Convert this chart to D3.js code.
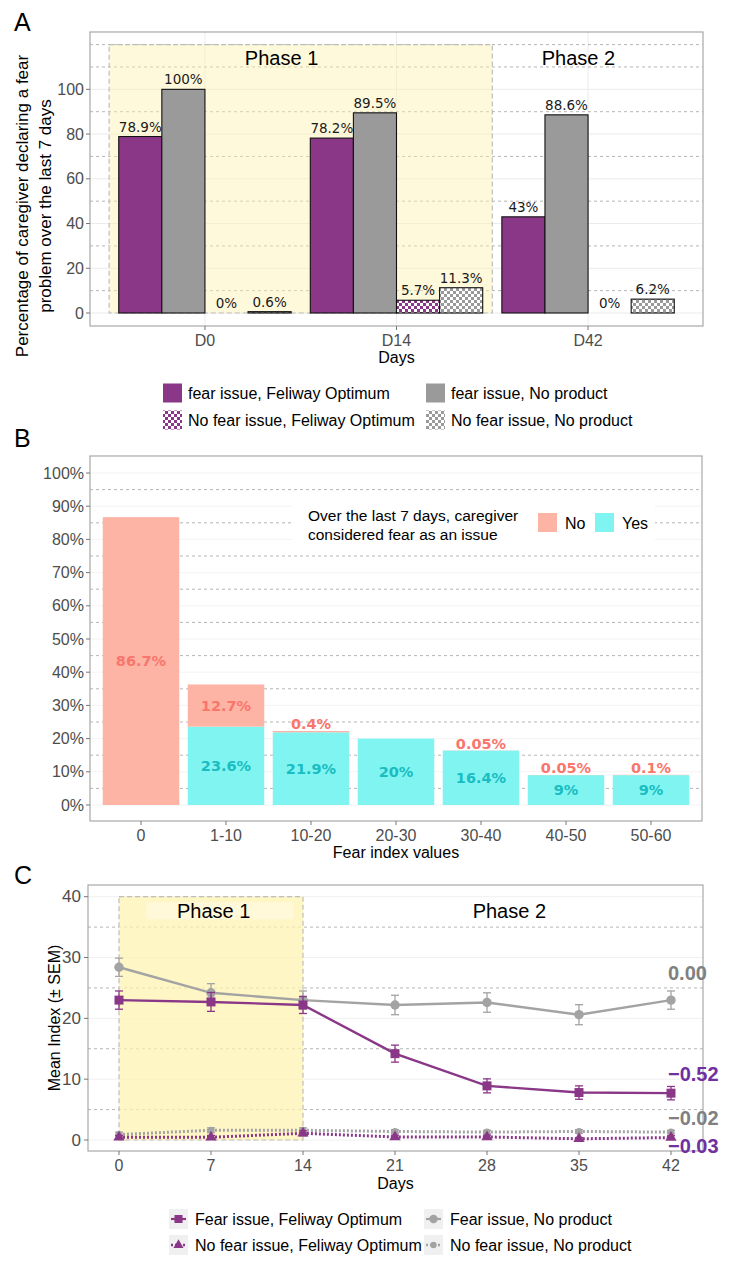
<!DOCTYPE html>
<html><head><meta charset="utf-8">
<script src="https://cdn.jsdelivr.net/npm/d3@7"></script>
<style>body{margin:0;background:#fff;} svg{display:block;font-family:"Liberation Sans",Arial,sans-serif;}</style>
</head><body><svg id="c" width="730" height="1262"></svg>
<script>
// ---------- Panel A data ----------
const daysA = ["D0", "D14", "D42"];
const seriesA = ["fear issue, Feliway Optimum", "fear issue, No product", "No fear issue, Feliway Optimum", "No fear issue, No product"];
const fearFeliwayA = [78.9, 78.2, 43];
const fearNoProductA = [100, 89.5, 88.6];
const noFearFeliwayA = [0, 5.7, 0];
const noFearNoProductA = [0.6, 11.3, 6.2];
const ticksA = [0, 20, 40, 60, 80, 100];
const dashedA = [10, 30, 50, 70, 90, 110, 120];
const phaseLabelsA = ["Phase 1", "Phase 2"];

// ---------- Panel B data ----------
const catsB = ["0", "1-10", "10-20", "20-30", "30-40", "40-50", "50-60"];
const yesB = [0, 23.6, 21.9, 20, 16.4, 9, 9];
const noB = [86.7, 12.7, 0.4, 0, 0.05, 0.05, 0.1];
const ticksB = [0, 10, 20, 30, 40, 50, 60, 70, 80, 90, 100];
const dashedB = [5, 15, 25, 35, 45, 55, 65, 75, 85, 95];

// ---------- Panel C data ----------
const daysC = [0, 7, 14, 21, 28, 35, 42];
const fearFeliwayC = [23.0, 22.7, 22.2, 14.2, 8.9, 7.8, 7.7];
const fearFeliwayErr = [1.5, 1.55, 1.4, 1.4, 1.15, 1.1, 1.1];
const fearNoProductC = [28.4, 24.2, 23.0, 22.2, 22.6, 20.6, 23.0];
const fearNoProductErr = [1.5, 1.5, 1.5, 1.6, 1.6, 1.65, 1.5];
const noFearFeliwayC = [0.45, 0.45, 1.1, 0.5, 0.5, 0.2, 0.4];
const noFearFeliwayErr = [0.3, 0.3, 0.4, 0.3, 0.3, 0.2, 0.3];
const noFearNoProductC = [0.9, 1.6, 1.6, 1.4, 1.3, 1.4, 1.3];
const noFearNoProductErr = [0.4, 0.4, 0.4, 0.3, 0.3, 0.3, 0.3];
const ticksCy = [0, 10, 20, 30, 40];
const dashedC = [5, 15, 25, 35];
const endLabels = ["0.00", "\u22120.52", "\u22120.02", "\u22120.03"];
const endLabelY = [27.5, 10.9, 3.6, -1.0];
const seriesC = ["Fear issue, Feliway Optimum", "Fear issue, No product", "No fear issue, Feliway Optimum", "No fear issue, No product"];

// ---------- styles ----------
const PURPLE = "#8A3788", GREY = "#9A9A9A", LGREY = "#A3A3A3";
const TICK = "#4D4D4D", DASH = "#B5B5B5", BORDER = "#A8A8A8";

const svg = d3.select("#c");
const defs = svg.append("defs");
function checker(id, col) {
  const p = defs.append("pattern").attr("id", id).attr("patternUnits", "userSpaceOnUse")
    .attr("width", 6).attr("height", 6);
  p.append("rect").attr("width", 6).attr("height", 6).attr("fill", "#fff");
  p.append("rect").attr("width", 3).attr("height", 3).attr("fill", col);
  p.append("rect").attr("x", 3).attr("y", 3).attr("width", 3).attr("height", 3).attr("fill", col);
}
checker("chkP", PURPLE);
checker("chkG", GREY);
const fillsA = [PURPLE, GREY, "url(#chkP)", "url(#chkG)"];

function txt(g, x, y, s, o = {}) {
  const t = g.append("text").attr("x", x).attr("y", y).text(s)
    .attr("font-size", o.size || 16).attr("fill", o.fill || "#000")
    .attr("text-anchor", o.anchor || "start").attr("dominant-baseline", o.base || "central");
  if (o.weight) t.attr("font-weight", o.weight);
  if (o.family) t.attr("font-family", o.family);
  if (o.rotate) t.attr("transform", `rotate(-90,${x},${y})`);
  return t;
}
function hline(g, x1, x2, y, col, dash, w = 1) {
  const l = g.append("line").attr("x1", x1).attr("x2", x2).attr("y1", y).attr("y2", y)
    .attr("stroke", col).attr("stroke-width", w);
  if (dash) l.attr("stroke-dasharray", dash);
}

// =================== PANEL A ===================
const A = {l: 90, r: 703, t: 32, b: 326};
const gA = svg.append("g");
const xA = d3.scaleBand().domain(daysA).range([A.l, A.r]).paddingInner(0.1).paddingOuter(0.15);
const xSubA = d3.scaleBand().domain(seriesA).range([0, xA.bandwidth()]);
const yA = d3.scaleLinear().domain([0, 120]).range([313, 44.6]);
const valsA = [fearFeliwayA, fearNoProductA, noFearFeliwayA, noFearNoProductA];
const ctrA = i => xA(daysA[0]) + xA.bandwidth() / 2 + i * xA.step();

txt(gA, 14, 22, "A", {size: 25});
ticksA.forEach(v => hline(gA, A.l, A.r, yA(v), "#EBEBEB"));
daysA.forEach(d => gA.append("line").attr("x1", xA(d) + xA.bandwidth() / 2).attr("x2", xA(d) + xA.bandwidth() / 2)
  .attr("y1", A.t).attr("y2", A.b).attr("stroke", "#EBEBEB"));
dashedA.forEach(v => hline(gA, A.l, A.r, yA(v), DASH, "3,3"));
const rL = xA(daysA[0]) - xA.step() * xA.paddingInner() / 2;
const rR = xA(daysA[1]) + xA.bandwidth() + xA.step() * xA.paddingInner() / 2;
gA.append("rect").attr("x", rL).attr("y", yA(120)).attr("width", rR - rL).attr("height", yA(0) - yA(120))
  .attr("fill", "#FFF2B0").attr("fill-opacity", 0.45)
  .attr("stroke", "#BDBDBD").attr("stroke-width", 1.2).attr("stroke-dasharray", "5,3");
txt(gA, ctrA(0.4), yA(114), phaseLabelsA[0], {size: 20, anchor: "middle"});
txt(gA, ctrA(1.95), yA(114), phaseLabelsA[1], {size: 20, anchor: "middle"});

daysA.forEach((d, i) => {
  seriesA.forEach((s, k) => {
    const v = valsA[k][i];
    const x = xA(d) + xSubA(s);
    gA.append("rect").attr("x", x).attr("y", yA(v)).attr("width", xSubA.bandwidth())
      .attr("height", yA(0) - yA(v)).attr("fill", fillsA[k]).attr("stroke", "#111").attr("stroke-width", 1.1);
    txt(gA, x + xSubA.bandwidth() / 2, yA(v) - 5, v + "%", {size: 13.5, anchor: "middle", base: "alphabetic",
      family: "DejaVu Sans", fill: "#1a1a1a"});
  });
});
gA.append("rect").attr("x", A.l).attr("y", A.t).attr("width", A.r - A.l).attr("height", A.b - A.t)
  .attr("fill", "none").attr("stroke", BORDER).attr("stroke-width", 1.2);
ticksA.forEach(v => {
  hline(gA, A.l - 4, A.l, yA(v), "#777");
  txt(gA, A.l - 6, yA(v), String(v), {anchor: "end", fill: TICK});
});
daysA.forEach(d => {
  const cx = xA(d) + xA.bandwidth() / 2;
  gA.append("line").attr("x1", cx).attr("x2", cx).attr("y1", A.b).attr("y2", A.b + 4).attr("stroke", "#777");
  txt(gA, cx, 340, d, {anchor: "middle", fill: TICK});
});
txt(gA, (A.l + A.r) / 2, 357, "Days", {anchor: "middle"});
txt(gA, 22, 206, "Percentage of caregiver declaring a fear", {anchor: "middle", rotate: true, size: 17});
txt(gA, 45, 206, "problem over the last 7 days", {anchor: "middle", rotate: true, size: 17});

// legend A
const legA = [[163, 393], [426, 393], [163, 420], [426, 420]];
seriesA.forEach((s, k) => {
  const [lx, ly] = legA[k];
  gA.append("rect").attr("x", lx).attr("y", ly - 9.5).attr("width", 19).attr("height", 19).attr("fill", fillsA[k]);
  txt(gA, lx + 25, ly, s, {size: 16});
});

// =================== PANEL B ===================
const B = {l: 90, r: 702, t: 456, b: 821};
const gB = svg.append("g");
const xB = d3.scaleBand().domain(catsB).range([B.l, B.r]).paddingInner(0.1).paddingOuter(0.15);
const yB = d3.scaleLinear().domain([0, 100]).range([805, 473]);
const COL_NO = "#FDB4A4", COL_YES = "#80F4F0", LAB_NO = "#F8766D", LAB_YES = "#19BDC2";

txt(gB, 14, 438, "B", {size: 25});
ticksB.forEach(v => hline(gB, B.l, B.r, yB(v), "#F3F3F3"));
dashedB.forEach(v => hline(gB, B.l, B.r, yB(v), DASH, "3,3"));
catsB.forEach((c, i) => {
  const x = xB(c), w = xB.bandwidth();
  if (yesB[i] > 0) gB.append("rect").attr("x", x).attr("y", yB(yesB[i])).attr("width", w)
    .attr("height", yB(0) - yB(yesB[i])).attr("fill", COL_YES);
  if (noB[i] > 0) gB.append("rect").attr("x", x).attr("y", yB(yesB[i] + noB[i])).attr("width", w)
    .attr("height", yB(yesB[i]) - yB(yesB[i] + noB[i])).attr("fill", COL_NO);
});
catsB.forEach((c, i) => {
  const cx = xB(c) + xB.bandwidth() / 2;
  if (yesB[i] > 0) txt(gB, cx, yB(yesB[i] / 2), yesB[i] + "%", {anchor: "middle", size: 14.5,
    weight: "bold", family: "DejaVu Sans", fill: LAB_YES});
  if (noB[i] > 0) {
    const top = yesB[i] + noB[i];
    const segH = yB(yesB[i]) - yB(top);
    const y = segH > 18 ? yB(yesB[i] + noB[i] / 2) : yB(top) - 6.5;
    txt(gB, cx, y, noB[i] + "%", {anchor: "middle", size: 14.5, weight: "bold", family: "DejaVu Sans", fill: LAB_NO});
  }
});
// legend B
gB.append("rect").attr("x", 292).attr("y", 501).attr("width", 363).attr("height", 44).attr("fill", "#fff");
txt(gB, 308, 515, "Over the last 7 days, caregiver", {size: 15.5});
txt(gB, 308, 534, "considered fear as an issue", {size: 15.5});
gB.append("rect").attr("x", 538).attr("y", 513).attr("width", 19).attr("height", 19).attr("fill", COL_NO);
txt(gB, 565, 523, "No", {size: 16});
gB.append("rect").attr("x", 595).attr("y", 513).attr("width", 19).attr("height", 19).attr("fill", COL_YES);
txt(gB, 622, 523, "Yes", {size: 16});

gB.append("rect").attr("x", B.l).attr("y", B.t).attr("width", B.r - B.l).attr("height", B.b - B.t)
  .attr("fill", "none").attr("stroke", BORDER).attr("stroke-width", 1.2);
ticksB.forEach(v => {
  hline(gB, B.l - 4, B.l, yB(v), "#777");
  txt(gB, B.l - 6, yB(v), v + "%", {anchor: "end", fill: TICK});
});
catsB.forEach(c => {
  const cx = xB(c) + xB.bandwidth() / 2;
  gB.append("line").attr("x1", cx).attr("x2", cx).attr("y1", B.b).attr("y2", B.b + 4).attr("stroke", "#777");
  txt(gB, cx, 835, c, {anchor: "middle", fill: TICK});
});
txt(gB, (B.l + B.r) / 2, 852, "Fear index values", {anchor: "middle"});

// =================== PANEL C ===================
const C = {l: 88, r: 703, t: 885, b: 1151};
const gC = svg.append("g");
const xC = d3.scaleLinear().domain([0, 42]).range([119, 671]);
const yC = d3.scaleLinear().domain([0, 40]).range([1140, 896.7]);

txt(gC, 14, 875, "C", {size: 25});
ticksCy.forEach(v => hline(gC, C.l, C.r, yC(v), "#F0F0F0"));
dashedC.forEach(v => hline(gC, C.l, C.r, yC(v), DASH, "3,3"));
gC.append("rect").attr("x", xC(0)).attr("y", yC(40)).attr("width", xC(14) - xC(0)).attr("height", yC(0) - yC(40))
  .attr("fill", "#FFF2B0").attr("fill-opacity", 0.72)
  .attr("stroke", "#BDBDBD").attr("stroke-width", 1.2).attr("stroke-dasharray", "5,3");
gC.append("rect").attr("x", xC(2.1)).attr("y", yC(37.7) - 8.5).attr("width", xC(13.3) - xC(2.1)).attr("height", 17)
  .attr("fill", "#fff").attr("fill-opacity", 0.35);
txt(gC, xC(7.2), yC(37.7), "Phase 1", {size: 20, anchor: "middle"});
txt(gC, xC(29.7), yC(37.7), "Phase 2", {size: 20, anchor: "middle"});

const cSeries = [
  {vals: fearFeliwayC, err: fearFeliwayErr, col: PURPLE, dash: null, sym: d3.symbolSquare, size: 81},
  {vals: fearNoProductC, err: fearNoProductErr, col: LGREY, dash: null, sym: d3.symbolCircle, size: 70},
  {vals: noFearFeliwayC, err: noFearFeliwayErr, col: PURPLE, dash: "2,2", sym: d3.symbolTriangle, size: 55},
  {vals: noFearNoProductC, err: noFearNoProductErr, col: LGREY, dash: "2,2", sym: d3.symbolCircle, size: 40}
];
const line = d3.line().x((d, i) => xC(daysC[i])).y(d => yC(d));
[3, 2, 1, 0].forEach(k => {
  const s = cSeries[k];
  const p = gC.append("path").attr("d", line(s.vals)).attr("fill", "none").attr("stroke", s.col)
    .attr("stroke-width", s.dash ? 3 : 2.4);
  if (s.dash) p.attr("stroke-dasharray", s.dash);
  s.vals.forEach((v, i) => {
    const x = xC(daysC[i]);
    const e = s.err[i];
    gC.append("line").attr("x1", x).attr("x2", x).attr("y1", yC(v - e)).attr("y2", yC(v + e))
      .attr("stroke", s.col).attr("stroke-width", 1.3);
    hline(gC, x - 4, x + 4, yC(v - e), s.col, null, 1.3);
    hline(gC, x - 4, x + 4, yC(v + e), s.col, null, 1.3);
    gC.append("path").attr("d", d3.symbol().type(s.sym).size(s.size)())
      .attr("transform", `translate(${x},${yC(v)})`).attr("fill", s.col);
  });
});
gC.append("rect").attr("x", C.l).attr("y", C.t).attr("width", C.r - C.l).attr("height", C.b - C.t)
  .attr("fill", "none").attr("stroke", BORDER).attr("stroke-width", 1.2);
const endCols = ["#808080", "#7030A0", "#808080", "#7030A0"];
endLabels.forEach((s, k) => txt(gC, xC(42) - 3, yC(endLabelY[k]), s, {size: 20, weight: "bold", fill: endCols[k]}));

ticksCy.forEach(v => {
  hline(gC, C.l - 4, C.l, yC(v), "#777");
  txt(gC, C.l - 7, yC(v), String(v), {anchor: "end", fill: TICK, size: 17});
});
daysC.forEach(d => {
  gC.append("line").attr("x1", xC(d)).attr("x2", xC(d)).attr("y1", C.b).attr("y2", C.b + 4).attr("stroke", "#777");
  txt(gC, xC(d), 1165, String(d), {anchor: "middle", fill: TICK});
});
txt(gC, (C.l + C.r) / 2, 1183, "Days", {anchor: "middle"});
txt(gC, 54, 1018, "Mean Index (\u00b1 SEM)", {anchor: "middle", rotate: true, size: 16});

// legend C
const legC = [[169, 1219], [424, 1219], [169, 1245], [424, 1245]];
seriesC.forEach((s, k) => {
  const [lx, ly] = legC[k];
  const cs = cSeries[k];
  gC.append("rect").attr("x", lx).attr("y", ly - 10).attr("width", 19).attr("height", 20).attr("fill", "#F0F0F0");
  const l = gC.append("line").attr("x1", lx + 2).attr("x2", lx + 17).attr("y1", ly).attr("y2", ly)
    .attr("stroke", cs.col).attr("stroke-width", cs.dash ? 2.5 : 2.2);
  if (cs.dash) l.attr("stroke-dasharray", cs.dash);
  gC.append("path").attr("d", d3.symbol().type(cs.sym).size(cs.size * 0.8)())
    .attr("transform", `translate(${lx + 9.5},${ly})`).attr("fill", cs.col);
  txt(gC, lx + 26, ly, s, {size: 16});
});
</script></body></html>
